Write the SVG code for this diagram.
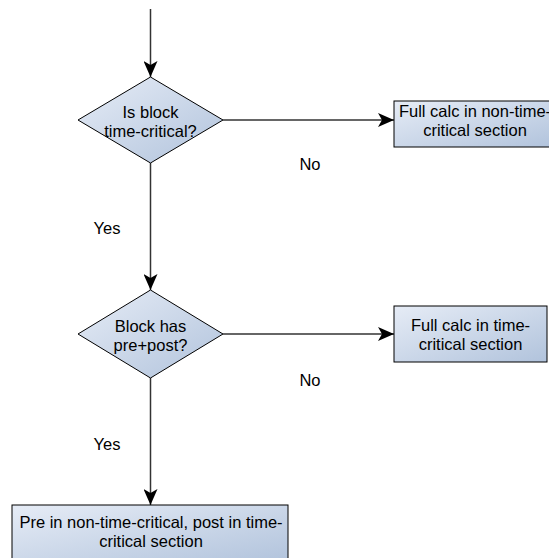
<svg xmlns="http://www.w3.org/2000/svg" width="549" height="558" viewBox="0 0 549 558">
  <defs>
    <linearGradient id="fillGrad" x1="0" y1="0" x2="1" y2="1">
      <stop offset="0" stop-color="#e6ecf6"/>
      <stop offset="1" stop-color="#b1c3dc"/>
    </linearGradient>
    <marker id="arrow" viewBox="0 0 16 14" refX="16" refY="7" markerWidth="16" markerHeight="14" markerUnits="userSpaceOnUse" orient="auto">
      <path d="M0,0 L16,7 L0,14 L4,7 z" fill="#000"/>
    </marker>
    <style>
      .shape { fill: url(#fillGrad); stroke: #000; stroke-width: 1; }
      .conn { fill: none; stroke: #333; stroke-width: 1.5; marker-end: url(#arrow); }
      text { font-family: "Liberation Sans", Arial, sans-serif; font-size: 16.5px; fill: #000; text-anchor: middle; }
    </style>
  </defs>

  <!-- connectors -->
  <g id="connectors">
    <path class="conn" d="M150.5,9 L150.5,77"/>
    <path class="conn" d="M150.5,163 L150.5,290"/>
    <path class="conn" d="M223,120 L394,120"/>
    <path class="conn" d="M150.5,378 L150.5,505"/>
    <path class="conn" d="M223,334 L394,334"/>
    <text x="310" y="170">No</text>
    <text x="107" y="234">Yes</text>
    <text x="310" y="386">No</text>
    <text x="107" y="450">Yes</text>
  </g>

  <!-- decision: time-critical -->
  <g id="decision-time-critical">
    <polygon class="shape" points="150.5,77 223,120 150.5,163 78,120"/>
    <text x="150.5" y="118">Is block</text>
    <text x="150.5" y="137">time-critical?</text>
  </g>

  <!-- result: full calc, non-time-critical -->
  <g id="full-calc-non-time-critical">
    <rect class="shape" x="394" y="101" width="160" height="46"/>
    <text x="475" y="117">Full calc in non-time-</text>
    <text x="475" y="136">critical section</text>
  </g>

  <!-- decision: pre+post -->
  <g id="decision-pre-post">
    <polygon class="shape" points="150.5,290 223,334 150.5,378 78,334"/>
    <text x="150.5" y="332">Block has</text>
    <text x="150.5" y="351">pre+post?</text>
  </g>

  <!-- result: full calc, time-critical -->
  <g id="full-calc-time-critical">
    <rect class="shape" x="394" y="306" width="153" height="56"/>
    <text x="470.5" y="331">Full calc in time-</text>
    <text x="470.5" y="350">critical section</text>
  </g>

  <!-- result: split pre/post -->
  <g id="split-pre-post">
    <rect class="shape" x="12" y="505" width="276" height="58"/>
    <text x="151" y="528">Pre in non-time-critical, post in time-</text>
    <text x="151" y="547">critical section</text>
  </g>
</svg>
